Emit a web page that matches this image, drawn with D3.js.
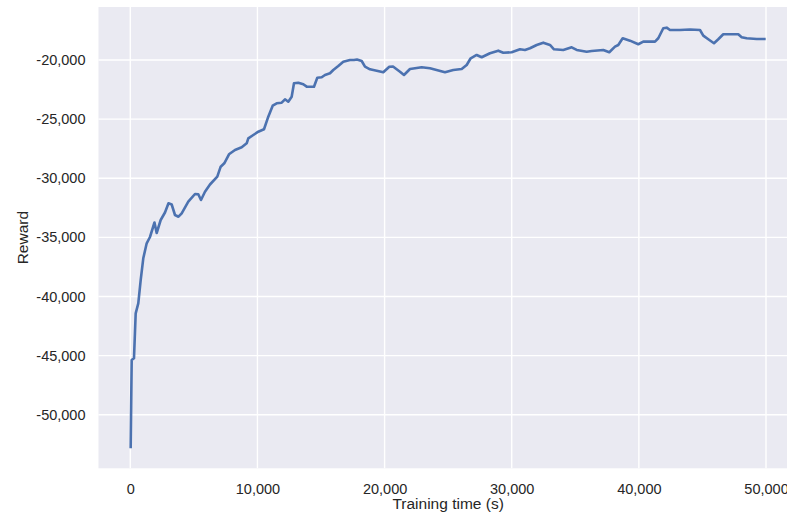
<!DOCTYPE html>
<html>
<head>
<meta charset="utf-8">
<script src="https://cdn.jsdelivr.net/npm/d3@7"></script>
<style>
  body { margin: 0; background: #fff; }
  svg { display: block; }
  text { font-family: "Liberation Sans", Arial, sans-serif; fill: #262626; }
</style>
</head>
<body>
<svg id="chart" width="787" height="518"></svg>
<script>
// training time (s) and smoothed reward
var timeSec = [31, 110, 291, 425, 629, 818, 1022, 1290, 1549, 1903, 2076, 2391, 2729, 3004, 3256, 3516,
  3791, 4043, 4562, 5089, 5348, 5561, 5875, 6268, 6843, 7110, 7393, 7763, 8235, 8762, 9155, 9281,
  9674, 10067, 10516, 10854, 11200, 11514, 11908, 12167, 12427, 12694, 12875, 13213, 13607, 13874,
  14448, 14708, 15054, 15313, 15707, 15966, 16359, 16752, 17279, 17594, 17830, 18200, 18460, 18853,
  19380, 19899, 20371, 20662, 21212, 21527, 21998, 22918, 23571, 24751, 25404, 26064, 26458, 26772,
  27244, 27637, 28290, 28943, 29336, 29997, 30650, 31043, 31436, 31963, 32482, 33009, 33323, 34055,
  34716, 35109, 35895, 36289, 37201, 37673, 38121, 38381, 38727, 39301, 39954, 40347, 41268, 41527,
  41920, 42187, 42447, 43233, 44020, 44806, 45066, 45459, 45907, 46245, 46638, 47165, 47818, 48085,
  48478, 49265, 49973];
var reward = [-52843, -45374, -45230, -41424, -40578, -38608, -36773, -35503, -34970, -33744, -34632,
  -33533, -32898, -32120, -32222, -33110, -33254, -32966, -31985, -31334, -31359, -31841, -31139,
  -30530, -29870, -29025, -28737, -27976, -27612, -27384, -27046, -26623, -26344, -26064, -25861,
  -24796, -23865, -23662, -23612, -23324, -23527, -23104, -21971, -21920, -22055, -22258, -22258,
  -21497, -21463, -21269, -21125, -20846, -20507, -20144, -20000, -20000, -19958, -20085, -20567,
  -20787, -20905, -21040, -20567, -20550, -20990, -21269, -20761, -20617, -20702, -21040, -20846,
  -20761, -20423, -19856, -19577, -19772, -19433, -19213, -19383, -19349, -19095, -19154, -19010,
  -18731, -18537, -18731, -19095, -19154, -18926, -19154, -19298, -19239, -19154, -19349, -18875,
  -18731, -18165, -18368, -18672, -18452, -18452, -18165, -17319, -17268, -17463, -17463, -17420,
  -17463, -17945, -18249, -18588, -18249, -17826, -17826, -17826, -18080, -18165, -18224, -18224];

var xTicks = [0, 10000, 20000, 30000, 40000, 50000];
var yTicks = [-50000, -45000, -40000, -35000, -30000, -25000, -20000];

var svg = d3.select("#chart");
var plotLeft = 98.5, plotRight = 797.8, plotTop = 7, plotBottom = 468.3;

var x = d3.scaleLinear().domain([-2500, 52500]).range([plotLeft, plotRight]);
var y = d3.scaleLinear().domain([-54530, -15520]).range([plotBottom, plotTop]);
// plain hyphen minus like matplotlib
var fmt = d3.formatLocale({ decimal: ".", thousands: ",", grouping: [3], currency: ["", ""], minus: "-" }).format(",");

svg.append("rect")
  .attr("x", plotLeft).attr("y", plotTop)
  .attr("width", plotRight - plotLeft).attr("height", plotBottom - plotTop)
  .attr("fill", "#eaeaf2");

var grid = svg.append("g").attr("stroke", "#fff").attr("stroke-width", 1.4);
grid.selectAll(".gx").data(xTicks).enter().append("line")
  .attr("x1", function (d) { return x(d); }).attr("x2", function (d) { return x(d); })
  .attr("y1", plotTop).attr("y2", plotBottom);
grid.selectAll(".gy").data(yTicks).enter().append("line")
  .attr("x1", plotLeft).attr("x2", plotRight)
  .attr("y1", function (d) { return y(d); }).attr("y2", function (d) { return y(d); });

// axes without domain line or tick marks, seaborn darkgrid look
var xAxis = svg.append("g")
  .attr("transform", "translate(0," + plotBottom + ")")
  .call(d3.axisBottom(x).tickValues(xTicks).tickFormat(fmt).tickSize(0).tickPadding(15));
var yAxis = svg.append("g")
  .attr("transform", "translate(" + plotLeft + ",0)")
  .call(d3.axisLeft(y).tickValues(yTicks).tickFormat(fmt).tickSize(0).tickPadding(13));
[xAxis, yAxis].forEach(function (a) {
  a.select(".domain").remove();
  a.selectAll("text").attr("font-size", 14.5).attr("font-family", null).attr("fill", "#262626");
});

var line = d3.line()
  .x(function (d, i) { return x(timeSec[i]); })
  .y(function (d) { return y(d); });

svg.append("path")
  .datum(reward)
  .attr("fill", "none")
  .attr("stroke", "#4c72b0")
  .attr("stroke-width", 2.6)
  .attr("stroke-linejoin", "round")
  .attr("d", line);

svg.append("text")
  .attr("x", (plotLeft + plotRight) / 2).attr("y", 509)
  .attr("text-anchor", "middle").attr("font-size", 15.5)
  .text("Training time (s)");

svg.append("text")
  .attr("transform", "translate(28," + (plotTop + plotBottom) / 2 + ") rotate(-90)")
  .attr("text-anchor", "middle").attr("font-size", 15.5)
  .text("Reward");
</script>
</body>
</html>
